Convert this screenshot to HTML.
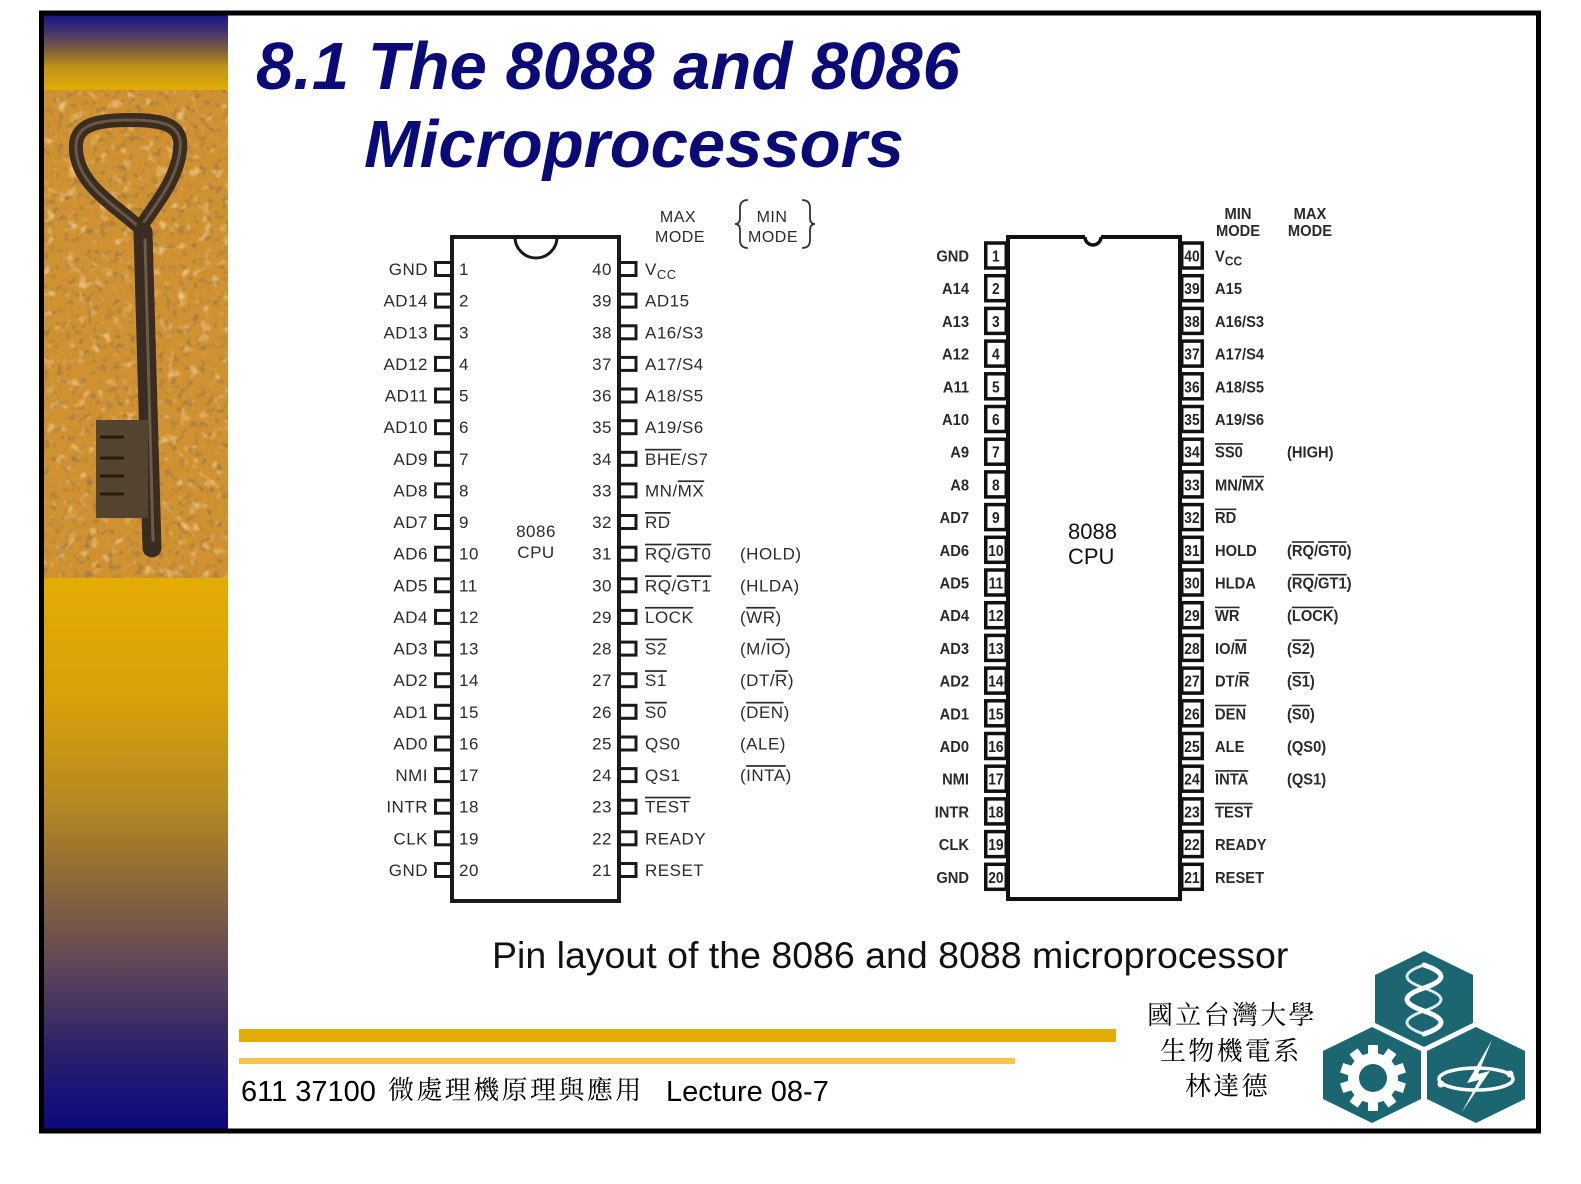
<!DOCTYPE html>
<html><head><meta charset="utf-8">
<style>
html,body{margin:0;padding:0;background:#fff;width:1581px;height:1184px;overflow:hidden}
svg{display:block}
.o{text-decoration:overline}
.p86{font-family:"Liberation Sans",Arial,sans-serif;font-size:17px;fill:#2b2b2b;letter-spacing:0.5px}
.p88{font-family:"Liberation Sans",Arial,sans-serif;font-size:16px;font-weight:bold;fill:#2a2a2a}
.n88{font-family:"Liberation Sans",Arial,sans-serif;font-size:16px;font-weight:bold;fill:#222}
</style></head>
<body>
<svg width="1581" height="1184" viewBox="0 0 1581 1184" xmlns="http://www.w3.org/2000/svg">
<defs>
<linearGradient id="gTop" x1="0" y1="15" x2="0" y2="90" gradientUnits="userSpaceOnUse">
<stop offset="0" stop-color="#141488"/><stop offset="0.25" stop-color="#4a3868"/><stop offset="0.47" stop-color="#80603a"/><stop offset="0.7" stop-color="#c09418"/><stop offset="1" stop-color="#e2aa04"/>
</linearGradient>
<linearGradient id="gBot" x1="0" y1="578" x2="0" y2="1131" gradientUnits="userSpaceOnUse">
<stop offset="0" stop-color="#e4ac02"/><stop offset="0.22" stop-color="#d9a00a"/><stop offset="0.40" stop-color="#b68a22"/><stop offset="0.51" stop-color="#987232"/><stop offset="0.62" stop-color="#785848"/><stop offset="0.72" stop-color="#58425a"/><stop offset="0.84" stop-color="#302468"/><stop offset="0.95" stop-color="#14107a"/><stop offset="1" stop-color="#0c0a80"/>
</linearGradient>
<filter id="sand" x="0" y="0" width="100%" height="100%">
<feTurbulence type="fractalNoise" baseFrequency="0.14" numOctaves="2" seed="5"/>
<feColorMatrix type="matrix" values="0 0 0 0 0.33  0 0 0 0 0.2  0 0 0 0 0.06  3.2 0 0 0 -1.75"/>
</filter>
<filter id="sand2" x="0" y="0" width="100%" height="100%">
<feTurbulence type="fractalNoise" baseFrequency="0.09" numOctaves="2" seed="11"/>
<feColorMatrix type="matrix" values="0 0 0 0 0.98  0 0 0 0 0.78  0 0 0 0 0.45  0 3 0 0 -1.75"/>
</filter>
</defs>

<!-- left panel -->
<rect x="44" y="15" width="184" height="76" fill="url(#gTop)"/>
<rect x="44" y="90" width="184" height="488" fill="#d09131"/>
<rect x="44" y="90" width="184" height="488" filter="url(#sand)"/>
<rect x="44" y="90" width="184" height="488" filter="url(#sand2)" opacity="0.7"/>
<rect x="44" y="578" width="184" height="553" fill="url(#gBot)"/>

<!-- key -->
<g fill="none" stroke-linecap="round" stroke-linejoin="round">
<path d="M140 228 C115 205 78 185 76 150 C74 125 95 120 130 120 C165 120 183 125 180 150 C177 180 155 205 140 228 Z" stroke="#3a2c20" stroke-width="14"/>
<path d="M140 228 C115 205 78 185 76 150 C74 125 95 120 130 120 C165 120 183 125 180 150 C177 180 155 205 140 228 Z" stroke="#7a6a52" stroke-width="3" opacity="0.7"/>
<line x1="143" y1="232" x2="152" y2="548" stroke="#3a2c20" stroke-width="19"/>
<line x1="145" y1="240" x2="153" y2="540" stroke="#807058" stroke-width="3" opacity="0.7"/>
</g>
<rect x="96" y="420" width="52" height="98" fill="#54442f"/>
<g stroke="#241a10" stroke-width="3">
<line x1="100" y1="437" x2="124" y2="437"/><line x1="100" y1="458" x2="124" y2="458"/><line x1="100" y1="476" x2="124" y2="476"/><line x1="100" y1="494" x2="124" y2="494"/>
</g>

<!-- frame -->
<rect x="41.5" y="13" width="1497" height="1118" fill="none" stroke="#000" stroke-width="5"/>

<!-- title -->
<g font-family="'Liberation Sans',Arial,sans-serif" font-weight="bold" font-style="italic" font-size="67" fill="#0b0b78">
<text x="256" y="89">8.1 The 8088 and 8086</text>
<text x="364" y="167">Microprocessors</text>
</g>

<!-- ================= 8086 ================= -->
<g fill="#fff" stroke="#1a1a1a" stroke-width="3">
<rect x="435.5" y="262.5" width="16.5" height="13"/>
<rect x="435.5" y="294.1" width="16.5" height="13"/>
<rect x="435.5" y="325.8" width="16.5" height="13"/>
<rect x="435.5" y="357.4" width="16.5" height="13"/>
<rect x="435.5" y="389" width="16.5" height="13"/>
<rect x="435.5" y="420.7" width="16.5" height="13"/>
<rect x="435.5" y="452.3" width="16.5" height="13"/>
<rect x="435.5" y="483.9" width="16.5" height="13"/>
<rect x="435.5" y="515.5" width="16.5" height="13"/>
<rect x="435.5" y="547.2" width="16.5" height="13"/>
<rect x="435.5" y="578.8" width="16.5" height="13"/>
<rect x="435.5" y="610.4" width="16.5" height="13"/>
<rect x="435.5" y="642.1" width="16.5" height="13"/>
<rect x="435.5" y="673.7" width="16.5" height="13"/>
<rect x="435.5" y="705.3" width="16.5" height="13"/>
<rect x="435.5" y="737" width="16.5" height="13"/>
<rect x="435.5" y="768.6" width="16.5" height="13"/>
<rect x="435.5" y="800.2" width="16.5" height="13"/>
<rect x="435.5" y="831.8" width="16.5" height="13"/>
<rect x="435.5" y="863.5" width="16.5" height="13"/>

<rect x="619" y="262.5" width="17" height="13"/>
<rect x="619" y="294.1" width="17" height="13"/>
<rect x="619" y="325.8" width="17" height="13"/>
<rect x="619" y="357.4" width="17" height="13"/>
<rect x="619" y="389" width="17" height="13"/>
<rect x="619" y="420.7" width="17" height="13"/>
<rect x="619" y="452.3" width="17" height="13"/>
<rect x="619" y="483.9" width="17" height="13"/>
<rect x="619" y="515.5" width="17" height="13"/>
<rect x="619" y="547.2" width="17" height="13"/>
<rect x="619" y="578.8" width="17" height="13"/>
<rect x="619" y="610.4" width="17" height="13"/>
<rect x="619" y="642.1" width="17" height="13"/>
<rect x="619" y="673.7" width="17" height="13"/>
<rect x="619" y="705.3" width="17" height="13"/>
<rect x="619" y="737" width="17" height="13"/>
<rect x="619" y="768.6" width="17" height="13"/>
<rect x="619" y="800.2" width="17" height="13"/>
<rect x="619" y="831.8" width="17" height="13"/>
<rect x="619" y="863.5" width="17" height="13"/>
</g>
<rect x="452" y="237" width="167" height="664" fill="none" stroke="#1a1a1a" stroke-width="4"/>
<path d="M515 237 A21 21 0 0 0 557 237" fill="none" stroke="#1a1a1a" stroke-width="3"/>

<g class="p86" text-anchor="end">
<text x="428" y="275">GND</text>
<text x="428" y="306.6">AD14</text>
<text x="428" y="338.3">AD13</text>
<text x="428" y="369.9">AD12</text>
<text x="428" y="401.5">AD11</text>
<text x="428" y="433.2">AD10</text>
<text x="428" y="464.8">AD9</text>
<text x="428" y="496.4">AD8</text>
<text x="428" y="528">AD7</text>
<text x="428" y="559.7">AD6</text>
<text x="428" y="591.3">AD5</text>
<text x="428" y="622.9">AD4</text>
<text x="428" y="654.6">AD3</text>
<text x="428" y="686.2">AD2</text>
<text x="428" y="717.8">AD1</text>
<text x="428" y="749.5">AD0</text>
<text x="428" y="781.1">NMI</text>
<text x="428" y="812.7">INTR</text>
<text x="428" y="844.3">CLK</text>
<text x="428" y="876">GND</text>

<text x="612" y="275">40</text>
<text x="612" y="306.6">39</text>
<text x="612" y="338.3">38</text>
<text x="612" y="369.9">37</text>
<text x="612" y="401.5">36</text>
<text x="612" y="433.2">35</text>
<text x="612" y="464.8">34</text>
<text x="612" y="496.4">33</text>
<text x="612" y="528">32</text>
<text x="612" y="559.7">31</text>
<text x="612" y="591.3">30</text>
<text x="612" y="622.9">29</text>
<text x="612" y="654.6">28</text>
<text x="612" y="686.2">27</text>
<text x="612" y="717.8">26</text>
<text x="612" y="749.5">25</text>
<text x="612" y="781.1">24</text>
<text x="612" y="812.7">23</text>
<text x="612" y="844.3">22</text>
<text x="612" y="876">21</text>
</g>

<g class="p86">
<text x="459" y="275">1</text>
<text x="459" y="306.6">2</text>
<text x="459" y="338.3">3</text>
<text x="459" y="369.9">4</text>
<text x="459" y="401.5">5</text>
<text x="459" y="433.2">6</text>
<text x="459" y="464.8">7</text>
<text x="459" y="496.4">8</text>
<text x="459" y="528">9</text>
<text x="459" y="559.7">10</text>
<text x="459" y="591.3">11</text>
<text x="459" y="622.9">12</text>
<text x="459" y="654.6">13</text>
<text x="459" y="686.2">14</text>
<text x="459" y="717.8">15</text>
<text x="459" y="749.5">16</text>
<text x="459" y="781.1">17</text>
<text x="459" y="812.7">18</text>
<text x="459" y="844.3">19</text>
<text x="459" y="876">20</text>

<text x="645" y="275">V<tspan font-size="13" dy="4">CC</tspan></text>
<text x="645" y="306.6">AD15</text>
<text x="645" y="338.3">A16/S3</text>
<text x="645" y="369.9">A17/S4</text>
<text x="645" y="401.5">A18/S5</text>
<text x="645" y="433.2">A19/S6</text>
<text x="645" y="464.8"><tspan class="o">BHE</tspan>/S7</text>
<text x="645" y="496.4">MN/<tspan class="o">MX</tspan></text>
<text x="645" y="528"><tspan class="o">RD</tspan></text>
<text x="645" y="559.7"><tspan class="o">RQ</tspan>/<tspan class="o">GT0</tspan></text>
<text x="645" y="591.3"><tspan class="o">RQ</tspan>/<tspan class="o">GT1</tspan></text>
<text x="645" y="622.9"><tspan class="o">LOCK</tspan></text>
<text x="645" y="654.6"><tspan class="o">S2</tspan></text>
<text x="645" y="686.2"><tspan class="o">S1</tspan></text>
<text x="645" y="717.8"><tspan class="o">S0</tspan></text>
<text x="645" y="749.5">QS0</text>
<text x="645" y="781.1">QS1</text>
<text x="645" y="812.7"><tspan class="o">TEST</tspan></text>
<text x="645" y="844.3">READY</text>
<text x="645" y="876">RESET</text>

<text x="740" y="559.7">(HOLD)</text>
<text x="740" y="591.3">(HLDA)</text>
<text x="740" y="622.9">(<tspan class="o">WR</tspan>)</text>
<text x="740" y="654.6">(M/<tspan class="o">IO</tspan>)</text>
<text x="740" y="686.2">(DT/<tspan class="o">R</tspan>)</text>
<text x="740" y="717.8">(<tspan class="o">DEN</tspan>)</text>
<text x="740" y="749.5">(ALE)</text>
<text x="740" y="781.1">(<tspan class="o">INTA</tspan>)</text>

<text x="536" y="537" text-anchor="middle">8086</text>
<text x="536" y="558" text-anchor="middle">CPU</text>
</g>

<g class="p86" text-anchor="middle" style="font-size:16px">
<text x="678" y="222">MAX</text>
<text x="680" y="242">MODE</text>
<text x="772" y="222">MIN</text>
<text x="773" y="242">MODE</text>
</g>
<g fill="none" stroke="#333" stroke-width="1.8">
<path d="M748 200 Q740 200 740 208 L740 218 Q740 224 735 224 Q740 224 740 230 L740 240 Q740 248 748 248"/>
<path d="M802 200 Q810 200 810 208 L810 218 Q810 224 815 224 Q810 224 810 230 L810 240 Q810 248 802 248"/>
</g>

<!-- ================= 8088 ================= -->
<g fill="#fff" stroke="#111" stroke-width="3.5">
<rect x="985.75" y="243" width="20.5" height="25"/>
<rect x="985.75" y="275.7" width="20.5" height="25"/>
<rect x="985.75" y="308.4" width="20.5" height="25"/>
<rect x="985.75" y="341.1" width="20.5" height="25"/>
<rect x="985.75" y="373.8" width="20.5" height="25"/>
<rect x="985.75" y="406.5" width="20.5" height="25"/>
<rect x="985.75" y="439.2" width="20.5" height="25"/>
<rect x="985.75" y="471.9" width="20.5" height="25"/>
<rect x="985.75" y="504.6" width="20.5" height="25"/>
<rect x="985.75" y="537.3" width="20.5" height="25"/>
<rect x="985.75" y="570" width="20.5" height="25"/>
<rect x="985.75" y="602.7" width="20.5" height="25"/>
<rect x="985.75" y="635.4" width="20.5" height="25"/>
<rect x="985.75" y="668.1" width="20.5" height="25"/>
<rect x="985.75" y="700.8" width="20.5" height="25"/>
<rect x="985.75" y="733.5" width="20.5" height="25"/>
<rect x="985.75" y="766.2" width="20.5" height="25"/>
<rect x="985.75" y="798.9" width="20.5" height="25"/>
<rect x="985.75" y="831.6" width="20.5" height="25"/>
<rect x="985.75" y="864.3" width="20.5" height="25"/>

<rect x="1181.75" y="243" width="20.5" height="25"/>
<rect x="1181.75" y="275.7" width="20.5" height="25"/>
<rect x="1181.75" y="308.4" width="20.5" height="25"/>
<rect x="1181.75" y="341.1" width="20.5" height="25"/>
<rect x="1181.75" y="373.8" width="20.5" height="25"/>
<rect x="1181.75" y="406.5" width="20.5" height="25"/>
<rect x="1181.75" y="439.2" width="20.5" height="25"/>
<rect x="1181.75" y="471.9" width="20.5" height="25"/>
<rect x="1181.75" y="504.6" width="20.5" height="25"/>
<rect x="1181.75" y="537.3" width="20.5" height="25"/>
<rect x="1181.75" y="570" width="20.5" height="25"/>
<rect x="1181.75" y="602.7" width="20.5" height="25"/>
<rect x="1181.75" y="635.4" width="20.5" height="25"/>
<rect x="1181.75" y="668.1" width="20.5" height="25"/>
<rect x="1181.75" y="700.8" width="20.5" height="25"/>
<rect x="1181.75" y="733.5" width="20.5" height="25"/>
<rect x="1181.75" y="766.2" width="20.5" height="25"/>
<rect x="1181.75" y="798.9" width="20.5" height="25"/>
<rect x="1181.75" y="831.6" width="20.5" height="25"/>
<rect x="1181.75" y="864.3" width="20.5" height="25"/>
</g>
<rect x="1008" y="237" width="172" height="662" fill="none" stroke="#111" stroke-width="4"/>
<rect x="1085" y="234" width="16" height="6" fill="#fff"/>
<path d="M1085 237 A8 8 0 0 0 1101 237" fill="none" stroke="#111" stroke-width="3.5"/>

<g class="n88" text-anchor="middle" transform="scale(0.86,1)">
<text x="1158" y="261.5">1</text>
<text x="1158" y="294.2">2</text>
<text x="1158" y="326.9">3</text>
<text x="1158" y="359.6">4</text>
<text x="1158" y="392.3">5</text>
<text x="1158" y="425">6</text>
<text x="1158" y="457.7">7</text>
<text x="1158" y="490.4">8</text>
<text x="1158" y="523.1">9</text>
<text x="1158" y="555.8">10</text>
<text x="1158" y="588.5">11</text>
<text x="1158" y="621.2">12</text>
<text x="1158" y="653.9">13</text>
<text x="1158" y="686.6">14</text>
<text x="1158" y="719.3">15</text>
<text x="1158" y="752">16</text>
<text x="1158" y="784.7">17</text>
<text x="1158" y="817.4">18</text>
<text x="1158" y="850.1">19</text>
<text x="1158" y="882.8">20</text>

<text x="1386" y="261.5">40</text>
<text x="1386" y="294.2">39</text>
<text x="1386" y="326.9">38</text>
<text x="1386" y="359.6">37</text>
<text x="1386" y="392.3">36</text>
<text x="1386" y="425">35</text>
<text x="1386" y="457.7">34</text>
<text x="1386" y="490.4">33</text>
<text x="1386" y="523.1">32</text>
<text x="1386" y="555.8">31</text>
<text x="1386" y="588.5">30</text>
<text x="1386" y="621.2">29</text>
<text x="1386" y="653.9">28</text>
<text x="1386" y="686.6">27</text>
<text x="1386" y="719.3">26</text>
<text x="1386" y="752">25</text>
<text x="1386" y="784.7">24</text>
<text x="1386" y="817.4">23</text>
<text x="1386" y="850.1">22</text>
<text x="1386" y="882.8">21</text>
</g>

<g class="p88" transform="scale(0.92,1)">
<g text-anchor="end">
<text x="1053.3" y="261.5">GND</text>
<text x="1053.3" y="294.2">A14</text>
<text x="1053.3" y="326.9">A13</text>
<text x="1053.3" y="359.6">A12</text>
<text x="1053.3" y="392.3">A11</text>
<text x="1053.3" y="425">A10</text>
<text x="1053.3" y="457.7">A9</text>
<text x="1053.3" y="490.4">A8</text>
<text x="1053.3" y="523.1">AD7</text>
<text x="1053.3" y="555.8">AD6</text>
<text x="1053.3" y="588.5">AD5</text>
<text x="1053.3" y="621.2">AD4</text>
<text x="1053.3" y="653.9">AD3</text>
<text x="1053.3" y="686.6">AD2</text>
<text x="1053.3" y="719.3">AD1</text>
<text x="1053.3" y="752">AD0</text>
<text x="1053.3" y="784.7">NMI</text>
<text x="1053.3" y="817.4">INTR</text>
<text x="1053.3" y="850.1">CLK</text>
<text x="1053.3" y="882.8">GND</text>
</g>
<text x="1320.7" y="261.5">V<tspan font-size="13" dy="4">CC</tspan></text>
<text x="1320.7" y="294.2">A15</text>
<text x="1320.7" y="326.9">A16/S3</text>
<text x="1320.7" y="359.6">A17/S4</text>
<text x="1320.7" y="392.3">A18/S5</text>
<text x="1320.7" y="425">A19/S6</text>
<text x="1320.7" y="457.7"><tspan class="o">SS0</tspan></text>
<text x="1320.7" y="490.4">MN/<tspan class="o">MX</tspan></text>
<text x="1320.7" y="523.1"><tspan class="o">RD</tspan></text>
<text x="1320.7" y="555.8">HOLD</text>
<text x="1320.7" y="588.5">HLDA</text>
<text x="1320.7" y="621.2"><tspan class="o">WR</tspan></text>
<text x="1320.7" y="653.9">IO/<tspan class="o">M</tspan></text>
<text x="1320.7" y="686.6">DT/<tspan class="o">R</tspan></text>
<text x="1320.7" y="719.3"><tspan class="o">DEN</tspan></text>
<text x="1320.7" y="752">ALE</text>
<text x="1320.7" y="784.7"><tspan class="o">INTA</tspan></text>
<text x="1320.7" y="817.4"><tspan class="o">TEST</tspan></text>
<text x="1320.7" y="850.1">READY</text>
<text x="1320.7" y="882.8">RESET</text>

<text x="1398.9" y="457.7">(HIGH)</text>
<text x="1398.9" y="555.8">(<tspan class="o">RQ</tspan>/<tspan class="o">GT0</tspan>)</text>
<text x="1398.9" y="588.5">(<tspan class="o">RQ</tspan>/<tspan class="o">GT1</tspan>)</text>
<text x="1398.9" y="621.2">(<tspan class="o">LOCK</tspan>)</text>
<text x="1398.9" y="653.9">(<tspan class="o">S2</tspan>)</text>
<text x="1398.9" y="686.6">(<tspan class="o">S1</tspan>)</text>
<text x="1398.9" y="719.3">(<tspan class="o">S0</tspan>)</text>
<text x="1398.9" y="752">(QS0)</text>
<text x="1398.9" y="784.7">(QS1)</text>

<g text-anchor="middle">
<text x="1345.7" y="219">MIN</text>
<text x="1345.7" y="236">MODE</text>
<text x="1423.9" y="219">MAX</text>
<text x="1423.9" y="236">MODE</text>
</g>
</g>

<g font-family="'Liberation Sans',Arial,sans-serif" font-size="22" fill="#111">
<text x="1068" y="539">8088</text>
<text x="1068" y="564">CPU</text>
</g>

<!-- caption -->
<text x="492" y="968" font-family="'Liberation Sans',Arial,sans-serif" font-size="37.5" fill="#111">Pin layout of the 8086 and 8088 microprocessor</text>

<!-- footer bars -->
<rect x="239" y="1029" width="877" height="13" fill="#e3ab04"/>
<rect x="239" y="1058" width="776" height="6" fill="#f5c453"/>

<!-- footer text -->
<text x="241" y="1101" font-family="'Liberation Sans',Arial,sans-serif" font-size="29" fill="#000">611 37100</text>
<text x="388" y="1099" font-family="'Liberation Serif','Noto Serif CJK SC','Noto Sans CJK TC',serif" font-size="26" letter-spacing="2.4" fill="#000">微處理機原理與應用</text>
<text x="666" y="1101" font-family="'Liberation Sans',Arial,sans-serif" font-size="29" fill="#000">Lecture 08-7</text>

<g font-family="'Liberation Serif','Noto Serif CJK SC','Noto Sans CJK TC',serif" font-size="26" letter-spacing="2.3" fill="#000">
<text x="1147" y="1024">國立台灣大學</text>
<text x="1160" y="1060">生物機電系</text>
<text x="1185" y="1095">林達德</text>
</g>

<!-- logo -->
<g fill="#1b6670">
<polygon points="1424,951 1473,975 1473,1023 1424,1047 1375,1023 1375,975"/>
<polygon points="1372,1027 1421,1051 1421,1099 1372,1123 1323,1099 1323,1051"/>
<polygon points="1476,1027 1525,1051 1525,1099 1476,1123 1427,1099 1427,1051"/>
</g>
<g fill="none" stroke="#fff" stroke-width="5" stroke-linecap="round">
<path d="M1424 965 Q1458 976.5 1424 988 Q1390 999.5 1424 1011 Q1458 1022.5 1424 1034"/>
<path d="M1424 965 Q1390 976.5 1424 988 Q1458 999.5 1424 1011 Q1390 1022.5 1424 1034" stroke-width="3" opacity="0.85"/>
</g>
<g transform="translate(1373 1078)" fill="#fff">
<circle r="25"/>
<rect x="-5" y="-33" width="10" height="12" transform="rotate(0)"/>
<rect x="-5" y="-33" width="10" height="12" transform="rotate(36)"/>
<rect x="-5" y="-33" width="10" height="12" transform="rotate(72)"/>
<rect x="-5" y="-33" width="10" height="12" transform="rotate(108)"/>
<rect x="-5" y="-33" width="10" height="12" transform="rotate(144)"/>
<rect x="-5" y="-33" width="10" height="12" transform="rotate(180)"/>
<rect x="-5" y="-33" width="10" height="12" transform="rotate(216)"/>
<rect x="-5" y="-33" width="10" height="12" transform="rotate(252)"/>
<rect x="-5" y="-33" width="10" height="12" transform="rotate(288)"/>
<rect x="-5" y="-33" width="10" height="12" transform="rotate(324)"/>
<circle r="14" fill="#1b6670"/>
</g>
<ellipse cx="1476" cy="1079" rx="37" ry="11" fill="none" stroke="#fff" stroke-width="3.5"/>
<polygon points="1492,1040 1467,1083 1479,1080 1462,1112 1490,1071 1478,1074" fill="#fff"/>
<circle cx="1441" cy="1084" r="3.5" fill="#fff"/>
<circle cx="1510" cy="1074" r="3.5" fill="#fff"/>
</svg>
</body></html>
